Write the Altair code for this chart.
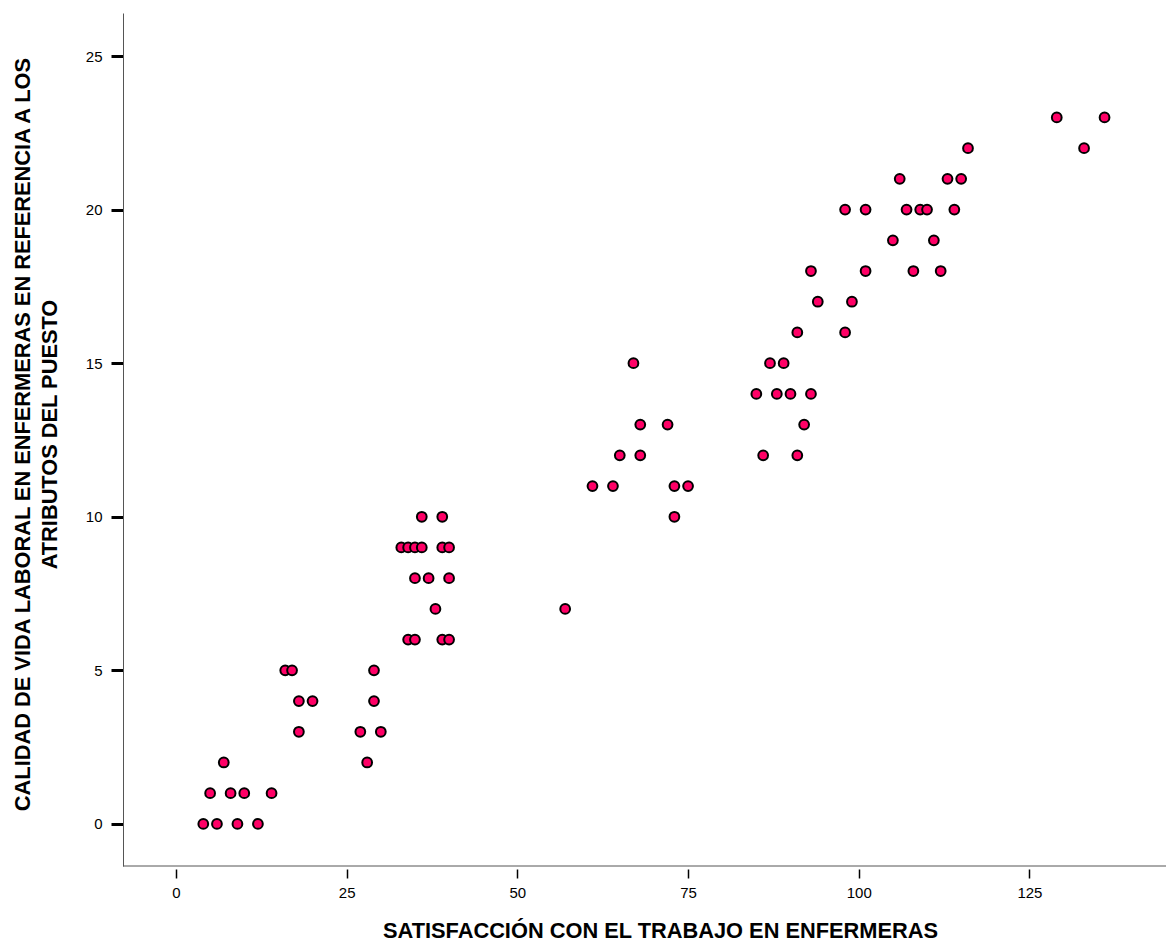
import altair as alt
import pandas as pd

# Data
satisfaccion = [4, 6, 9, 12,
                5, 8, 10, 14,
                7, 28,
                18, 27, 30,
                18, 20, 29,
                16, 17, 29,
                34, 35, 39, 40,
                38, 57,
                35, 37, 40,
                33, 34, 35, 36, 39, 40,
                36, 39, 73,
                61, 64, 73, 75,
                65, 68, 86, 91,
                68, 72, 92,
                85, 88, 90, 93,
                67, 87, 89,
                91, 98,
                94, 99,
                93, 101, 108, 112,
                105, 111,
                98, 101, 107, 109, 110, 114,
                106, 113, 115,
                116, 133,
                129, 136]
calidad = ([0] * 4 + [1] * 4 + [2] * 2 + [3] * 3 + [4] * 3 + [5] * 3 + [6] * 4 +
           [7] * 2 + [8] * 3 + [9] * 6 + [10] * 3 + [11] * 4 + [12] * 4 + [13] * 3 +
           [14] * 4 + [15] * 3 + [16] * 2 + [17] * 2 + [18] * 4 + [19] * 2 + [20] * 6 +
           [21] * 3 + [22] * 2 + [23] * 2)

x_ticks = [0, 25, 50, 75, 100, 125]
y_ticks = [0, 5, 10, 15, 20, 25]

x_title = "SATISFACCIÓN CON EL TRABAJO EN ENFERMERAS"
y_title = ["CALIDAD DE VIDA LABORAL EN ENFERMERAS EN REFERENCIA A LOS",
           "ATRIBUTOS DEL PUESTO"]

df = pd.DataFrame({"sat": satisfaccion, "cal": calidad})

W, H = 1043, 853
FONT = "Liberation Sans"

points = alt.Chart(df).mark_circle(
    fill="#ff0066", stroke="black", strokeWidth=2, size=95, opacity=1, fillOpacity=1
).encode(
    x=alt.X("sat:Q",
            scale=alt.Scale(domain=[-7.76, 145.0], nice=False, zero=False),
            axis=alt.Axis(values=x_ticks, title=x_title, grid=False, domain=False,
                          offset=3, tickSize=9, tickWidth=1.5, tickColor="black",
                          labelFont=FONT, labelFontSize=15, labelColor="black",
                          labelPadding=7,
                          titleFont=FONT, titleFontSize=21.8, titleFontWeight="bold",
                          titleColor="black", titleX=537, titleY=68,
                          titleBaseline="alphabetic")),
    y=alt.Y("cal:Q",
            scale=alt.Scale(domain=[-1.37, 26.4], nice=False, zero=False),
            axis=alt.Axis(values=y_ticks, title=y_title, grid=False, domain=True,
                          domainColor="#555555", domainWidth=1,
                          tickSize=12, tickWidth=3, tickColor="black",
                          labelFont=FONT, labelFontSize=15, labelColor="black",
                          labelPadding=9,
                          titleFont=FONT, titleFontSize=21.8, titleFontWeight="bold",
                          titleColor="black", titleLineHeight=27, titlePadding=24,
                          titleY=421)),
)

xline = alt.Chart(pd.DataFrame({"a": [0]})).mark_rule(
    color="#555555", strokeWidth=1
).encode(x=alt.value(0), x2=alt.value(W), y=alt.value(H))

chart = alt.layer(xline, points).properties(
    width=W, height=H,
    autosize=alt.AutoSizeParams(type="none"),
    padding={"left": 115, "top": 5, "right": 0, "bottom": 77},
    background="white",
).configure_view(stroke=None)

chart.save("out.html", embed_options={"renderer": "svg", "actions": False})
